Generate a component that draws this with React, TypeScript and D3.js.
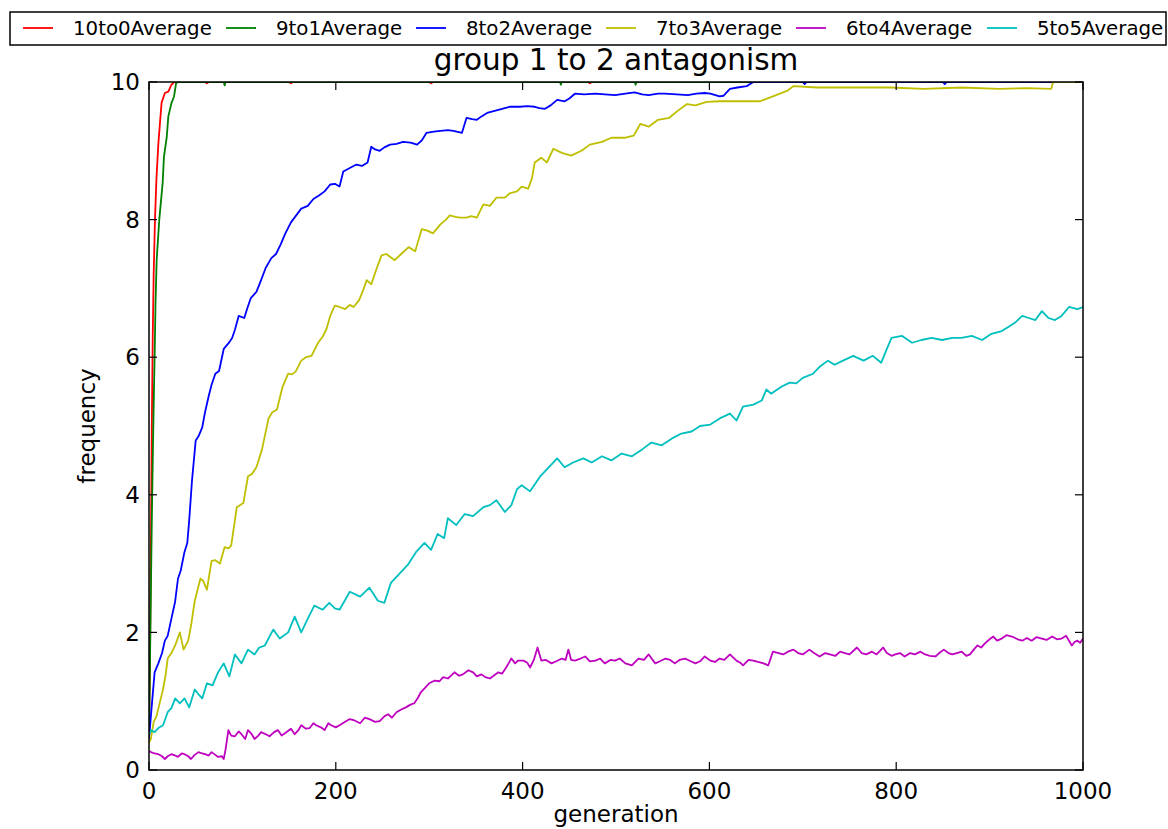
import React from "react";
import * as d3 from "d3";

type Pt = [number, number];

const seriesNames = ["10to0Average", "9to1Average", "8to2Average", "7to3Average", "6to4Average", "5to5Average"];
const seriesColors = ["#ff0000", "#008000", "#0000ff", "#bfbf00", "#bf00bf", "#00bfbf"];

const xTicks = [0, 200, 400, 600, 800, 1000];
const yTicks = [0, 2, 4, 6, 8, 10];

const red10to0: Pt[] = [[0,0.5],[1,1.5],[2,3.2],[3,5.0],[4,6.3],[5,7.2],[6.4,8.0],[8,8.6],[10,9.1],[12,9.45],[13.5,9.7],[17,9.84],[20.7,9.86],[22,9.9],[24,9.96],[27,10],[60,10],[62,9.98],[64,10],[150,10],[152,9.98],[154,10],[300,10],[302,9.98],[304,10],[470,10],[472,9.98],[474,10],[1000,10]];

const green9to1: Pt[] = [[0,0.5],[1,1.5],[2,2.6],[3,3.6],[4,4.5],[5,5.3],[6,6.0],[7,6.8],[8.2,7.41],[11,8.0],[14.6,8.53],[16,8.91],[19,9.2],[20.7,9.5],[24,9.69],[26.8,9.79],[29,9.98],[31,10],[80,10],[81,9.95],[82,10],[440,10],[441,9.96],[442,10],[520,10],[521,9.96],[522,10],[1000,10]];

const blue8to2: Pt[] = [[0,0.45],[2,0.78],[6,1.42],[10,1.55],[14,1.7],[17,1.88],[20,1.95],[24,2.2],[28,2.45],[31,2.78],[34,2.9],[38,3.17],[41,3.3],[43,3.62],[46,4.2],[50,4.79],[53,4.85],[57,4.98],[60,5.2],[64,5.44],[67,5.6],[71,5.76],[75,5.8],[80,6.12],[85,6.2],[89,6.28],[92,6.4],[96,6.6],[102,6.57],[105,6.7],[109,6.86],[115,6.95],[120,7.12],[125,7.3],[131,7.44],[136,7.5],[141,7.64],[146,7.8],[152,7.96],[157,8.05],[163,8.16],[170,8.2],[176,8.3],[182,8.35],[188,8.41],[194,8.51],[199,8.52],[204,8.48],[208,8.7],[215,8.75],[222,8.8],[228,8.78],[234,8.83],[238,9.06],[242,9.02],[247,9.0],[252,9.05],[258,9.09],[265,9.1],[272,9.13],[280,9.12],[287,9.09],[292,9.15],[297,9.26],[305,9.28],[312,9.29],[320,9.3],[326,9.29],[335,9.26],[340,9.48],[346,9.46],[351,9.45],[356,9.5],[362,9.55],[370,9.58],[378,9.61],[386,9.64],[397,9.64],[405,9.65],[413,9.64],[418,9.62],[424,9.61],[430,9.66],[437,9.74],[445,9.72],[450,9.76],[456,9.83],[466,9.82],[478,9.83],[488,9.82],[499,9.81],[510,9.83],[520,9.85],[528,9.82],[535,9.81],[545,9.83],[552,9.83],[565,9.82],[577,9.81],[586,9.83],[595,9.84],[601,9.83],[611,9.79],[615,9.8],[622,9.9],[630,9.92],[640,9.94],[647,10],[700,10],[702,9.97],[704,10],[850,10],[852,9.97],[854,10],[1000,10]];

const yellow7to3: Pt[] = [[0,0.4],[2,0.45],[5,0.7],[8,0.78],[11,0.95],[15,1.17],[18,1.4],[20,1.62],[24,1.7],[28,1.81],[33,2.0],[37,1.75],[42,1.88],[45,2.1],[49,2.46],[55,2.78],[58,2.75],[62,2.62],[67,3.04],[71,3.05],[76,3.0],[81,3.24],[85,3.22],[88,3.26],[94,3.82],[101,3.88],[106,4.27],[110,4.3],[115,4.4],[121,4.66],[128,5.11],[132,5.2],[137,5.24],[143,5.57],[149,5.76],[153,5.75],[157,5.79],[163,5.95],[168,6.0],[174,6.02],[181,6.21],[186,6.3],[190,6.41],[194,6.6],[199,6.75],[204,6.73],[210,6.7],[215,6.76],[219,6.73],[225,6.83],[230,7.0],[233,7.12],[238,7.06],[244,7.3],[249,7.48],[254,7.5],[258,7.46],[263,7.41],[270,7.5],[278,7.6],[285,7.54],[292,7.86],[298,7.84],[304,7.8],[312,7.93],[318,8.0],[322,8.06],[328,8.04],[333,8.03],[340,8.03],[345,8.05],[351,8.03],[358,8.22],[365,8.2],[372,8.32],[381,8.32],[386,8.38],[394,8.41],[399,8.48],[406,8.45],[410,8.6],[413,8.83],[420,8.9],[426,8.83],[433,9.03],[442,8.97],[452,8.93],[463,9.0],[472,9.09],[485,9.13],[495,9.19],[510,9.19],[519,9.22],[526,9.39],[535,9.35],[545,9.45],[557,9.48],[566,9.58],[576,9.68],[585,9.66],[597,9.71],[611,9.72],[633,9.72],[654,9.72],[668,9.79],[683,9.87],[690,9.94],[715,9.92],[750,9.92],[793,9.92],[830,9.9],[870,9.92],[910,9.9],[940,9.91],[966,9.9],[968,10],[1000,10]];

const magenta6to4: Pt[] = [[0,0.28],[2,0.26],[6,0.24],[10,0.23],[14,0.2],[17,0.16],[20,0.2],[24,0.23],[28,0.21],[31,0.19],[35,0.24],[38,0.23],[42,0.2],[45,0.16],[49,0.22],[53,0.26],[57,0.24],[60,0.23],[64,0.21],[67,0.26],[71,0.22],[74,0.19],[78,0.2],[80,0.16],[82,0.3],[85,0.58],[88,0.5],[92,0.49],[96,0.56],[99,0.52],[103,0.45],[106,0.58],[110,0.52],[113,0.45],[117,0.5],[120,0.55],[125,0.52],[129,0.49],[134,0.55],[138,0.58],[142,0.5],[147,0.55],[152,0.6],[156,0.52],[160,0.58],[163,0.65],[168,0.6],[172,0.61],[176,0.68],[179,0.65],[184,0.62],[188,0.58],[192,0.68],[195,0.65],[200,0.62],[204,0.65],[210,0.7],[215,0.74],[220,0.72],[226,0.68],[231,0.76],[236,0.74],[242,0.7],[247,0.71],[252,0.78],[256,0.81],[260,0.76],[265,0.84],[270,0.88],[275,0.91],[280,0.95],[284,0.97],[288,1.05],[291,1.13],[296,1.2],[300,1.26],[306,1.3],[311,1.29],[315,1.35],[320,1.33],[324,1.38],[327,1.42],[332,1.37],[336,1.39],[342,1.45],[347,1.42],[351,1.36],[356,1.39],[360,1.35],[365,1.33],[370,1.38],[374,1.42],[378,1.4],[381,1.46],[385,1.55],[388,1.62],[392,1.55],[395,1.59],[401,1.59],[405,1.56],[408,1.49],[412,1.6],[416,1.78],[420,1.59],[425,1.6],[431,1.55],[436,1.58],[442,1.62],[446,1.6],[449,1.75],[452,1.6],[456,1.59],[462,1.62],[467,1.65],[472,1.58],[478,1.59],[483,1.62],[488,1.55],[494,1.6],[499,1.59],[504,1.62],[510,1.55],[517,1.52],[524,1.62],[530,1.6],[535,1.68],[542,1.55],[547,1.58],[553,1.62],[558,1.6],[563,1.55],[568,1.6],[574,1.62],[580,1.58],[585,1.55],[590,1.58],[595,1.65],[601,1.59],[606,1.57],[611,1.62],[616,1.6],[622,1.68],[629,1.59],[633,1.56],[636,1.52],[642,1.6],[647,1.59],[652,1.57],[658,1.55],[663,1.52],[668,1.72],[674,1.7],[679,1.68],[684,1.72],[690,1.75],[695,1.7],[700,1.68],[707,1.75],[712,1.7],[718,1.65],[724,1.7],[729,1.68],[735,1.66],[740,1.72],[745,1.7],[750,1.68],[758,1.78],[763,1.7],[768,1.68],[774,1.72],[779,1.68],[786,1.78],[790,1.7],[795,1.66],[799,1.68],[804,1.7],[809,1.65],[815,1.7],[820,1.68],[826,1.72],[831,1.68],[836,1.66],[842,1.65],[846,1.7],[851,1.75],[856,1.7],[860,1.68],[865,1.7],[870,1.72],[875,1.66],[879,1.68],[883,1.75],[887,1.81],[891,1.78],[895,1.84],[900,1.9],[904,1.94],[908,1.88],[913,1.91],[918,1.96],[924,1.94],[930,1.9],[935,1.88],[940,1.92],[945,1.88],[950,1.93],[956,1.91],[961,1.89],[967,1.94],[972,1.9],[977,1.91],[982,1.95],[988,1.81],[991,1.86],[994,1.88],[997,1.85],[1000,1.91]];

const cyan5to5: Pt[] = [[0,0.52],[2,0.58],[6,0.55],[10,0.61],[15,0.65],[20,0.84],[24,0.9],[28,1.04],[33,0.97],[38,1.04],[43,0.91],[49,1.17],[53,1.1],[57,1.04],[62,1.26],[68,1.23],[74,1.42],[80,1.55],[86,1.36],[92,1.68],[99,1.55],[106,1.75],[113,1.68],[118,1.78],[124,1.81],[133,2.04],[140,1.91],[149,2.0],[156,2.23],[163,2.0],[170,2.2],[177,2.39],[186,2.33],[193,2.43],[199,2.35],[204,2.33],[215,2.59],[226,2.52],[236,2.65],[245,2.46],[252,2.43],[259,2.72],[268,2.85],[277,2.98],[286,3.17],[295,3.3],[302,3.2],[309,3.43],[316,3.37],[320,3.66],[329,3.56],[338,3.72],[347,3.69],[358,3.82],[365,3.85],[372,3.92],[381,3.75],[388,3.85],[394,4.08],[399,4.14],[408,4.05],[419,4.27],[428,4.4],[437,4.53],[445,4.4],[454,4.47],[465,4.53],[474,4.47],[485,4.56],[495,4.5],[506,4.6],[517,4.56],[528,4.66],[538,4.76],[549,4.72],[560,4.82],[570,4.89],[581,4.92],[590,5.0],[601,5.02],[611,5.11],[622,5.18],[629,5.08],[636,5.28],[647,5.31],[656,5.37],[661,5.53],[666,5.47],[677,5.57],[686,5.63],[693,5.62],[700,5.7],[711,5.76],[718,5.86],[727,5.95],[734,5.89],[743,5.95],[754,6.02],[765,5.95],[775,6.02],[784,5.92],[790,6.12],[795,6.28],[806,6.31],[817,6.21],[827,6.25],[838,6.28],[849,6.25],[860,6.28],[870,6.28],[881,6.31],[892,6.25],[902,6.34],[913,6.38],[920,6.44],[927,6.5],[935,6.6],[942,6.57],[949,6.54],[956,6.67],[963,6.57],[970,6.54],[977,6.6],[985,6.73],[994,6.7],[1000,6.73]];

const seriesData: Pt[][] = [red10to0, green9to1, blue8to2, yellow7to3, magenta6to4, cyan5to5];

const W = 1168;
const H = 829;
const M = { left: 149, right: 1083, top: 82, bottom: 770 };
const FONT = "'DejaVu Sans', 'Liberation Sans', sans-serif";
const legendLineX = [23, 226, 416, 606, 796, 987];

export default function App() {
  const x = d3.scaleLinear().domain([0, 1000]).range([M.left, M.right]);
  const y = d3.scaleLinear().domain([0, 10]).range([M.bottom, M.top]);
  const line = d3.line<Pt>().x((d) => x(d[0])).y((d) => y(d[1]));
  const tickLen = 8;
  const legendFont = 19.8;

  return (
    <svg
      width={W}
      height={H}
      style={{ position: "fixed", left: 0, top: 0, background: "#fff" }}
      fontFamily={FONT}
    >
      <defs>
        <clipPath id="plotclip">
          <rect x={M.left} y={M.top} width={M.right - M.left} height={M.bottom - M.top} />
        </clipPath>
      </defs>
      <rect x={0} y={0} width={W} height={H} fill="#fff" />

      <g clipPath="url(#plotclip)">
        {seriesData.map((s, i) => (
          <path
            key={seriesNames[i]}
            d={line(s) || ""}
            fill="none"
            stroke={seriesColors[i]}
            strokeWidth={1.8}
            strokeLinejoin="round"
          />
        ))}
      </g>

      <rect
        x={M.left}
        y={M.top}
        width={M.right - M.left}
        height={M.bottom - M.top}
        fill="none"
        stroke="#000"
        strokeWidth={1.5}
      />

      {xTicks.map((t) => (
        <g key={"xt" + t}>
          <line x1={x(t)} x2={x(t)} y1={M.bottom} y2={M.bottom - tickLen} stroke="#000" strokeWidth={1.2} />
          <line x1={x(t)} x2={x(t)} y1={M.top} y2={M.top + tickLen} stroke="#000" strokeWidth={1.2} />
          <text x={x(t)} y={799} textAnchor="middle" fontSize={23} fill="#000">
            {t}
          </text>
        </g>
      ))}

      {yTicks.map((t) => (
        <g key={"yt" + t}>
          <line x1={M.left} x2={M.left + tickLen} y1={y(t)} y2={y(t)} stroke="#000" strokeWidth={1.2} />
          <line x1={M.right} x2={M.right - tickLen} y1={y(t)} y2={y(t)} stroke="#000" strokeWidth={1.2} />
          <text x={140} y={y(t) + 8.2} textAnchor="end" fontSize={23} fill="#000">
            {t}
          </text>
        </g>
      ))}

      <text x={(M.left + M.right) / 2} y={822} textAnchor="middle" fontSize={23} fill="#000">
        generation
      </text>
      <text
        transform={`translate(95, ${(M.top + M.bottom) / 2}) rotate(-90)`}
        textAnchor="middle"
        fontSize={23}
        fill="#000"
      >
        frequency
      </text>

      <text x={(M.left + M.right) / 2} y={70} textAnchor="middle" fontSize={29.5} fill="#000">
        group 1 to 2 antagonism
      </text>

      <rect x={10} y={12} width={1156} height={33} fill="#fff" stroke="#000" strokeWidth={1.5} />
      {seriesNames.map((n, i) => (
        <g key={"lg" + n}>
          <line
            x1={legendLineX[i]}
            x2={legendLineX[i] + 30}
            y1={28}
            y2={28}
            stroke={seriesColors[i]}
            strokeWidth={1.8}
          />
          <text x={legendLineX[i] + 50} y={35} fontSize={legendFont} fill="#000">
            {n}
          </text>
        </g>
      ))}
    </svg>
  );
}
